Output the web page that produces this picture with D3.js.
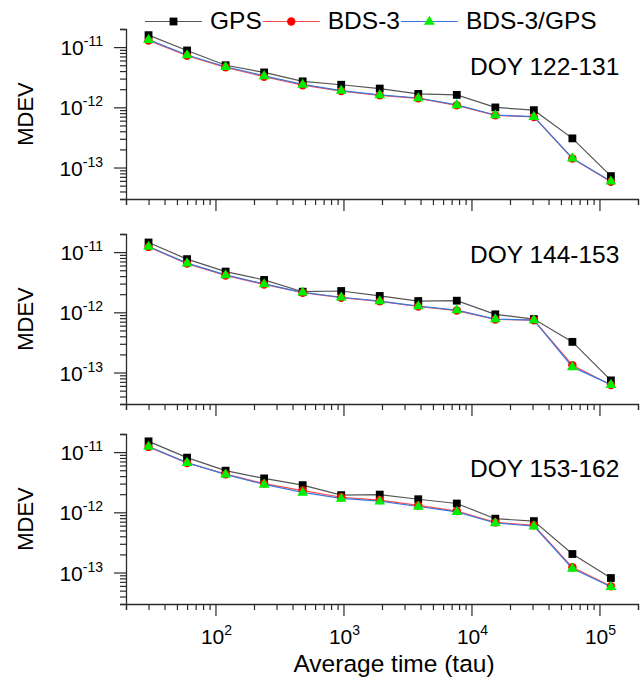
<!DOCTYPE html>
<html>
<head>
<meta charset="utf-8">
<script src="https://cdn.jsdelivr.net/npm/d3@7"></script>
<style>
  html, body { margin: 0; padding: 0; background: #fff; }
  svg { display: block; font-family: "Liberation Sans", Arial, sans-serif; }
</style>
</head>
<body>
<svg id="chart" width="644" height="683"></svg>
<script>
// Averaging times (s)
const tau = [30, 60, 120, 240, 480, 960, 1920, 3840, 7680, 15360, 30720, 61440, 122880];

// Panel titles
const periods = ["DOY 122-131", "DOY 144-153", "DOY 153-162"];

// Series names
const seriesNames = ["GPS", "BDS-3", "BDS-3/GPS"];

// MDEV values, DOY 122-131
const gps1  = [1.58e-11, 8.8e-12, 5.0e-12, 3.8e-12, 2.7e-12, 2.37e-12, 2.05e-12, 1.67e-12, 1.61e-12, 9.96e-13, 8.97e-13, 3.05e-13, 7.2e-14];
const bds1  = [1.29e-11, 7.2e-12, 4.62e-12, 3.22e-12, 2.33e-12, 1.86e-12, 1.58e-12, 1.41e-12, 1.08e-12, 7.35e-13, 6.92e-13, 1.41e-13, 5.8e-14];
const comb1 = [1.33e-11, 7.4e-12, 4.72e-12, 3.33e-12, 2.4e-12, 1.9e-12, 1.61e-12, 1.43e-12, 1.10e-12, 7.46e-13, 7.0e-13, 1.43e-13, 5.9e-14];

// MDEV values, DOY 144-153
const gps2  = [1.445e-11, 7.65e-12, 4.75e-12, 3.45e-12, 2.2e-12, 2.26e-12, 1.87e-12, 1.54e-12, 1.56e-12, 9.26e-13, 7.73e-13, 3.23e-13, 7.4e-14];
const bds2  = [1.22e-11, 6.45e-12, 4.1e-12, 2.9e-12, 2.12e-12, 1.75e-12, 1.52e-12, 1.25e-12, 1.07e-12, 7.6e-13, 7.4e-13, 1.32e-13, 6.2e-14];
const comb2 = [1.24e-11, 6.56e-12, 4.18e-12, 2.96e-12, 2.15e-12, 1.78e-12, 1.54e-12, 1.27e-12, 1.09e-12, 7.73e-13, 7.44e-13, 1.24e-13, 6.3e-14];

// MDEV values, DOY 153-162
const gps3  = [1.51e-11, 8.1e-12, 4.92e-12, 3.66e-12, 2.83e-12, 1.93e-12, 1.97e-12, 1.65e-12, 1.40e-12, 7.84e-13, 7.15e-13, 2.03e-13, 8.1e-14];
const bds3  = [1.22e-11, 6.6e-12, 4.3e-12, 3.0e-12, 2.3e-12, 1.78e-12, 1.6e-12, 1.3e-12, 1.05e-12, 6.8e-13, 6.1e-13, 1.22e-13, 5.9e-14];
const comb3 = [1.24e-11, 6.7e-12, 4.28e-12, 2.91e-12, 2.14e-12, 1.70e-12, 1.53e-12, 1.25e-12, 1.02e-12, 6.65e-13, 5.9e-13, 1.17e-13, 5.8e-14];

// Axis tick values
const xMajorTicks = [1e2, 1e3, 1e4, 1e5];
const yMajorTicks = [1e-11, 1e-12, 1e-13];

const panels = [
  { title: periods[0], series: [gps1, bds1, comb1] },
  { title: periods[1], series: [gps2, bds2, comb2] },
  { title: periods[2], series: [gps3, bds3, comb3] }
];

// Layout
const left = 126, right = 638, panelH = 170;
const panelTops = [29, 234, 434];
const titleBaselines = [75, 263, 477];
const FONT_BIG = 24.5, FONT_TICK = 21, FONT_SUP = 14;

const styles = [
  { line: "#555555", fill: "#000000", marker: "square" },
  { line: "#ff4a4a", fill: "#ff0000", marker: "circle" },
  { line: "#3a78dc", fill: "#00ee00", marker: "triangle" }
];

const svg = d3.select("#chart");

const x = d3.scaleLog().domain([20, 2e5]).range([left, right]);

// Full set of log ticks (1..9 per decade) inside a domain
function logTicks(lo, hi) {
  const out = [];
  for (let e = Math.floor(Math.log10(lo)); e <= Math.ceil(Math.log10(hi)); e++) {
    for (let m = 1; m <= 9; m++) {
      const v = m * Math.pow(10, e);
      if (v >= lo * 0.9999 && v <= hi * 1.0001) out.push(v);
    }
  }
  return out;
}
const isMajor = (v) => Math.abs(Math.log10(v) - Math.round(Math.log10(v))) < 1e-6;

function drawMarker(g, style, cx, cy) {
  if (style.marker === "square") {
    g.append("rect").attr("x", cx - 3.9).attr("y", cy - 3.9)
      .attr("width", 7.8).attr("height", 7.8).attr("fill", style.fill);
  } else if (style.marker === "circle") {
    g.append("circle").attr("cx", cx).attr("cy", cy).attr("r", 4.2).attr("fill", style.fill);
  } else {
    g.append("path")
      .attr("d", `M${cx},${cy - 5.8}L${cx + 5.4},${cy + 3.3}L${cx - 5.4},${cy + 3.3}Z`)
      .attr("fill", style.fill);
  }
}

function superLabel(sel, base, exp) {
  sel.append("tspan").text(base);
  sel.append("tspan").attr("font-size", FONT_SUP).attr("dy", -9).text(exp);
}

panels.forEach((p, i) => {
  const top = panelTops[i];
  const bottom = top + panelH;
  const y = d3.scaleLog().domain([3e-14, 2e-11]).range([bottom, top]);
  const g = svg.append("g");

  // x axis
  const xTicks = logTicks(20, 2e5);
  const xAxis = d3.axisBottom(x).tickValues(xTicks).tickFormat("").tickSizeOuter(0).tickSize(6);
  const gx = g.append("g").attr("transform", `translate(0,${bottom})`).call(xAxis);
  gx.selectAll(".tick line").attr("y2", d => isMajor(d) ? 12 : 6);

  // y axis
  const yTicks = logTicks(3e-14, 2e-11);
  const yAxis = d3.axisLeft(y).tickValues(yTicks).tickFormat("").tickSizeOuter(0).tickSize(6);
  const gy = g.append("g").attr("transform", `translate(${left},0)`).call(yAxis);
  gy.selectAll(".tick line").attr("x2", d => isMajor(d) ? -12 : -6);

  [gx, gy].forEach(a => {
    a.select(".domain").attr("stroke", "#2a2a2a").attr("stroke-width", 1.3);
    a.selectAll(".tick line").attr("stroke", "#2a2a2a").attr("stroke-width", 1.2);
  });

  // y tick labels
  yMajorTicks.forEach(v => {
    const t = g.append("text")
      .attr("x", 103).attr("y", y(v) + 8)
      .attr("text-anchor", "end").attr("font-size", FONT_TICK).attr("fill", "#000");
    superLabel(t, "10", String(Math.round(Math.log10(v))));
  });

  // x tick labels on the bottom panel only
  if (i === panels.length - 1) {
    xMajorTicks.forEach(v => {
      const t = g.append("text")
        .attr("x", x(v) + 1).attr("y", bottom + 40)
        .attr("text-anchor", "middle").attr("font-size", FONT_TICK).attr("fill", "#000");
      superLabel(t, "10", String(Math.round(Math.log10(v))));
    });
    svg.append("text")
      .attr("x", (left + right) / 2 + 12).attr("y", 672)
      .attr("text-anchor", "middle").attr("font-size", FONT_BIG).attr("fill", "#000")
      .text("Average time (tau)");
  }

  // y axis title
  svg.append("text")
    .attr("transform", `translate(33,${top + panelH / 2}) rotate(-90)`)
    .attr("text-anchor", "middle").attr("font-size", 22).attr("fill", "#000")
    .text("MDEV");

  // Panel title
  g.append("text").attr("x", 470).attr("y", titleBaselines[i])
    .attr("font-size", FONT_BIG).attr("fill", "#000").text(p.title);

  // Series lines then markers
  const line = d3.line().x((d, k) => x(tau[k])).y(d => y(d));
  p.series.forEach((vals, s) => {
    g.append("path").datum(vals).attr("d", line)
      .attr("fill", "none").attr("stroke", styles[s].line).attr("stroke-width", 1.2);
  });
  p.series.forEach((vals, s) => {
    const mg = g.append("g");
    vals.forEach((v, k) => drawMarker(mg, styles[s], x(tau[k]), y(v)));
  });
});

// Legend
let lx = 145;
const ly = 21.5;
seriesNames.forEach((name, s) => {
  const lg = svg.append("g");
  lg.append("line").attr("x1", lx).attr("x2", lx + 57).attr("y1", ly).attr("y2", ly)
    .attr("stroke", styles[s].line).attr("stroke-width", 1.2);
  drawMarker(lg, styles[s], lx + 28.5, ly);
  const t = lg.append("text").attr("x", lx + 65).attr("y", ly + 7.5)
    .attr("font-size", FONT_BIG).attr("fill", "#000").text(name);
  lx = lx + 65 + t.node().getComputedTextLength() + 1;
});
</script>
</body>
</html>
